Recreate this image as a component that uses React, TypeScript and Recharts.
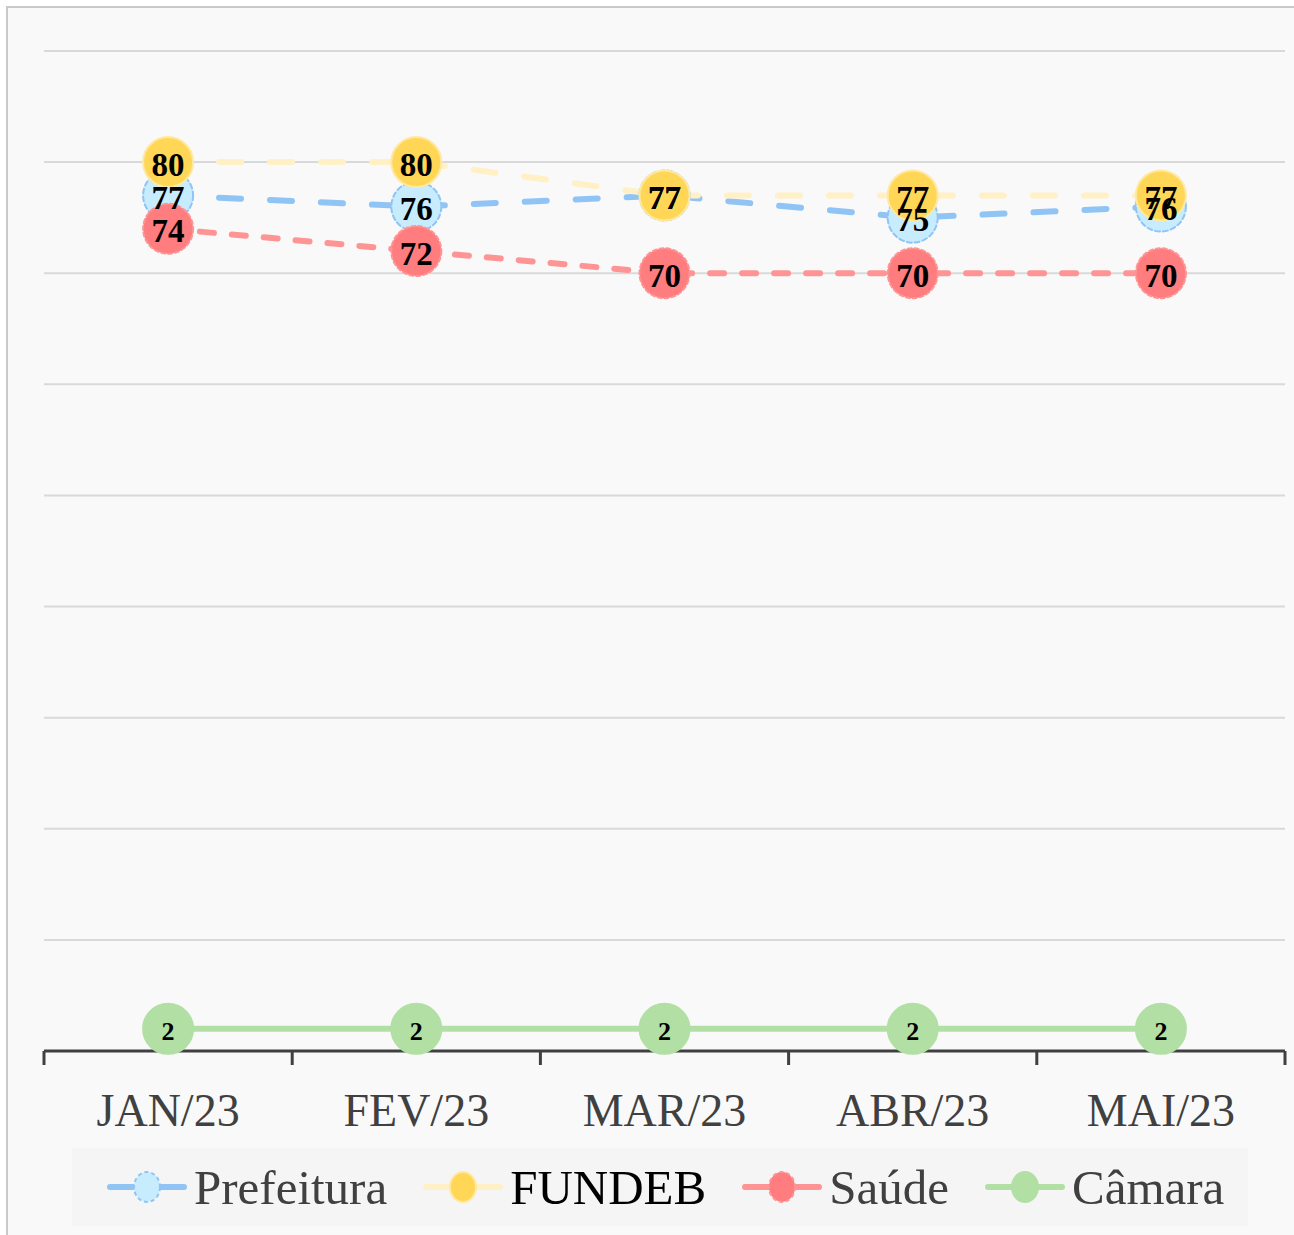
import { CartesianGrid, LabelList, Legend, Line, LineChart, XAxis, YAxis } from "recharts";

const MONTHS = ["JAN/23", "FEV/23", "MAR/23", "ABR/23", "MAI/23"];
const PREFEITURA = [77, 76, 77, 75, 76];
const FUNDEB = [80, 80, 77, 77, 77];
const SAUDE = [74, 72, 70, 70, 70];
const CAMARA = [2, 2, 2, 2, 2];
const Y_TICKS = [0, 10, 20, 30, 40, 50, 60, 70, 80, 90];

const data = MONTHS.map((m, i) => ({
  month: m,
  prefeitura: PREFEITURA[i],
  fundeb: FUNDEB[i],
  saude: SAUDE[i],
  camara: CAMARA[i],
}));

const SERIF = "'Liberation Serif', 'DejaVu Serif', serif";

// line colour, dash pattern, marker look — roughly Excel's pastel theme
const SERIES = [
  {
    key: "prefeitura",
    name: "Prefeitura",
    line: "#90c4f5",
    dash: "22 29",
    fill: "#c6ecfd",
    stroke: "#90c4f5",
    dotDash: "5 3",
    labelSize: 33,
    textColor: "#404040",
  },
  {
    key: "fundeb",
    name: "FUNDEB",
    line: "#fff0c6",
    dash: "22 29",
    fill: "#ffd656",
    stroke: "#ffe8a0",
    dotDash: "none",
    labelSize: 33,
    textColor: "#000",
  },
  {
    key: "saude",
    name: "Saúde",
    line: "#ff9494",
    dash: "14 18",
    fill: "#ff7c7f",
    stroke: "#ff9494",
    dotDash: "4 3",
    labelSize: 33,
    textColor: "#404040",
  },
  {
    key: "camara",
    name: "Câmara",
    line: "#b2dfa3",
    dash: undefined,
    fill: "#b2dfa3",
    stroke: "#b2dfa3",
    dotDash: "none",
    labelSize: 26,
    textColor: "#404040",
  },
];

const W = 1294;
const H = 1235;
const MARGIN = { top: 51, right: 9, left: 44, bottom: 9 };
const BAND = (W - MARGIN.left - MARGIN.right) / MONTHS.length;

function MonthTick(props: any) {
  const { x, y, payload, index } = props;
  const half = BAND / 2;
  return (
    <g>
      <line x1={x - half} x2={x - half} y1={y} y2={y + 14} stroke="#404040" strokeWidth={3} />
      {index === MONTHS.length - 1 && (
        <line x1={x + half} x2={x + half} y1={y} y2={y + 14} stroke="#404040" strokeWidth={3} />
      )}
      <text x={x} y={y + 75} textAnchor="middle" fontSize={46} fill="#404040" fontFamily={SERIF}>
        {payload.value}
      </text>
    </g>
  );
}

function SeriesLegend() {
  return (
    <div
      style={{
        display: "flex",
        alignItems: "center",
        height: "100%",
        paddingLeft: 35,
        fontFamily: SERIF,
        fontSize: 49,
      }}
    >
      {SERIES.map((s) => (
        <div key={s.key} style={{ display: "flex", alignItems: "center", marginRight: 36 }}>
          <svg width={80} height={40} style={{ marginRight: 7 }}>
            <line x1={3} x2={77} y1={20} y2={20} stroke={s.line} strokeWidth={6} strokeLinecap="round" />
            <ellipse
              cx={40}
              cy={20}
              rx={13}
              ry={15}
              fill={s.fill}
              stroke={s.stroke}
              strokeWidth={2}
              strokeDasharray={s.dotDash === "none" ? undefined : "4 3"}
            />
          </svg>
          <span style={{ color: s.textColor, lineHeight: 1 }}>{s.name}</span>
        </div>
      ))}
    </div>
  );
}

export default function App() {
  return (
    <div
      style={{
        position: "absolute",
        left: 0,
        top: 0,
        width: W,
        height: H,
        background: "#fff",
        overflow: "hidden",
      }}
    >
      <div
        style={{
          position: "absolute",
          left: 6,
          top: 6,
          width: W + 20,
          height: H + 20,
          border: "2px solid #c9c9c9",
          background: "#f9f9f9",
        }}
      />
      <div style={{ position: "absolute", left: 0, top: 0 }}>
        <LineChart width={W} height={H} data={data} margin={MARGIN}>
          <CartesianGrid vertical={false} stroke="#d9d9d9" strokeWidth={2} />
          <XAxis
            dataKey="month"
            scale="band"
            height={97}
            tickSize={0}
            tickMargin={0}
            tickLine={false}
            axisLine={{ stroke: "#404040", strokeWidth: 3 }}
            tick={<MonthTick />}
            interval={0}
          />
          <YAxis hide domain={[0, 90]} ticks={Y_TICKS} type="number" />
          {SERIES.map((s) => (
            <Line
              key={s.key}
              dataKey={s.key}
              name={s.name}
              stroke={s.line}
              strokeWidth={6}
              strokeDasharray={s.dash}
              strokeLinecap="round"
              isAnimationActive={false}
              activeDot={false}
              dot={{
                r: 25,
                fill: s.fill,
                stroke: s.stroke,
                strokeWidth: 2,
                strokeDasharray: s.dotDash,
              }}
            />
          ))}
          {SERIES.map((s) => (
            <Line
              key={s.key + "-labels"}
              dataKey={s.key}
              stroke="none"
              dot={false}
              activeDot={false}
              legendType="none"
              isAnimationActive={false}
            >
              <LabelList
                dataKey={s.key}
                position="center"
                fontSize={s.labelSize}
                fontWeight="bold"
                fill="#000"
                fontFamily={SERIF}
                dy={2}
              />
            </Line>
          ))}
          <Legend
            verticalAlign="bottom"
            content={<SeriesLegend />}
            wrapperStyle={{ left: 72, width: 1176, height: 78, bottom: 9, background: "#f5f5f5" }}
          />
        </LineChart>
      </div>
    </div>
  );
}
